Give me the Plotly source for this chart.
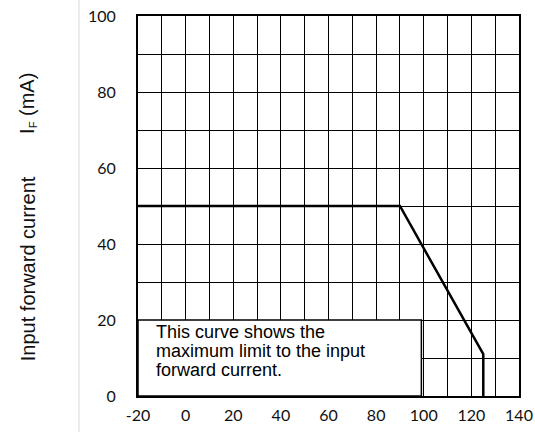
import plotly.graph_objects as go

# Data
temp_c = [-20, 90, 125, 125]
current_ma = [50, 50, 11, 0]
x_ticks = [-20, 0, 20, 40, 60, 80, 100, 120, 140]
x_tick_text = ["-20", "0", "20", "40", "60", "80", "100", "120", "140"]
y_ticks = [0, 20, 40, 60, 80, 100]
note_lines = ["This curve shows the", "maximum limit to the input", "forward current."]
note_line_y = [16.9, 11.9, 6.9]

fig = go.Figure()
fig.add_trace(go.Scatter(x=temp_c, y=current_ma, mode="lines",
                         line=dict(color="black", width=2.5), showlegend=False,
                         hoverinfo="skip"))

tick_font = dict(family="Lato, Open Sans, sans-serif", size=16, color="#111")
fig.update_xaxes(range=[-20, 140], tickvals=x_ticks, ticktext=x_tick_text, showgrid=True,
                 gridcolor="black", gridwidth=1, zeroline=False, showline=True,
                 linecolor="black", linewidth=2, mirror=True, ticks="", tickfont=tick_font,
                 ticklabelstandoff=4, automargin=False, ticklabeloverflow="allow",
                 minor=dict(dtick=10, tick0=0, showgrid=True, gridcolor="black", gridwidth=1),
                 fixedrange=True)
fig.update_yaxes(range=[0, 100], tickvals=y_ticks, showgrid=True, gridcolor="black",
                 gridwidth=1, zeroline=False, showline=True, linecolor="black",
                 linewidth=2, mirror=True, ticks="", tickfont=tick_font, ticklabelstandoff=17,
                 automargin=False, ticklabeloverflow="allow",
                 minor=dict(dtick=10, tick0=0, showgrid=True, gridcolor="black", gridwidth=1),
                 fixedrange=True)

# y-axis title (two parts)
title_font = dict(family="Liberation Sans, Arial, sans-serif", size=20, color="#111")
fig.add_annotation(xref="paper", yref="paper", x=-0.29, y=0.335, textangle=-90,
                   text="Input forward current", showarrow=False,
                   xanchor="center", yanchor="middle", font=title_font)
fig.add_annotation(xref="paper", yref="paper", x=-0.29, y=0.77, textangle=-90,
                   text="I<span style='font-size:16px'><sub>F</sub></span> (mA)",
                   showarrow=False, xanchor="center", yanchor="middle", font=title_font)

# note box
fig.add_shape(type="rect", xref="x", yref="y", x0=-20, x1=99, y0=0, y1=20,
              fillcolor="white", line=dict(color="black", width=1.5), layer="above")
for txt, yy in zip(note_lines, note_line_y):
    fig.add_annotation(xref="x", yref="y", x=-13.4, y=yy, xanchor="left", yanchor="middle",
                       text=txt, showarrow=False, align="left",
                       font=dict(family="Liberation Sans, Arial, sans-serif", size=18,
                                 color="black"))

# light divider line on the left
fig.add_shape(type="line", xref="paper", yref="paper", x0=-0.155, x1=-0.155,
              y0=-0.1, y1=1.05, line=dict(color="#d9d9d9", width=1))

fig.update_layout(width=535, height=432, margin=dict(l=138, r=16, t=16, b=36),
                  paper_bgcolor="white", plot_bgcolor="white")

fig.write_html("out.html", config={"displayModeBar": False},
               post_script="document.body.style.margin='0';document.body.style.overflow='hidden';")
